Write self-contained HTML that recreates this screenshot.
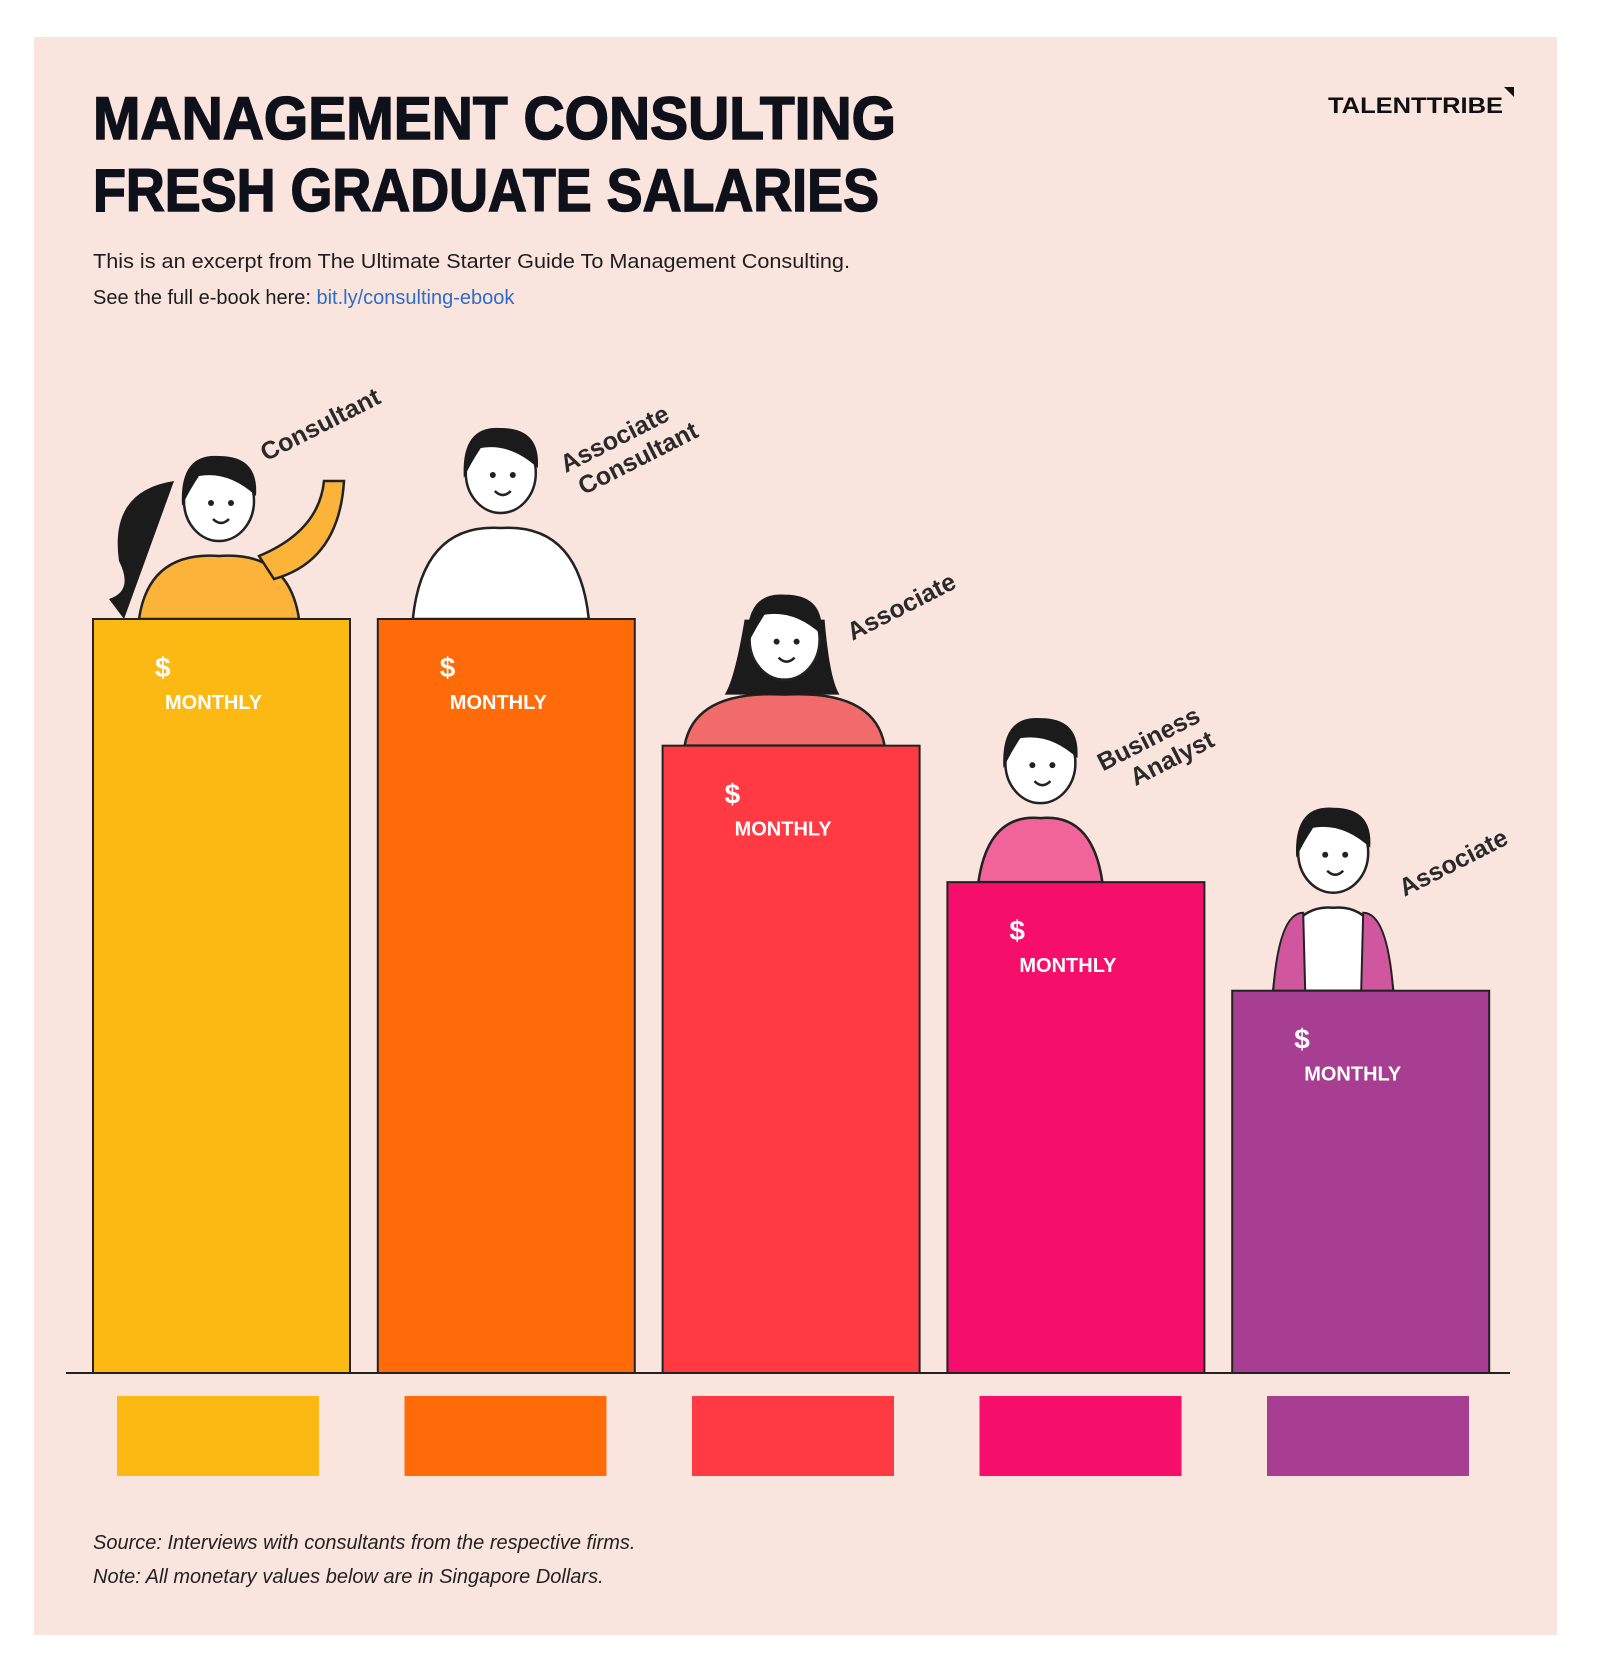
<!DOCTYPE html>
<html><head><meta charset="utf-8">
<style>
html,body{margin:0;padding:0;background:#fff;width:1600px;height:1680px;overflow:hidden}
svg{display:block}
text{font-family:"Liberation Sans",sans-serif}
</style></head>
<body>
<svg id="chart" width="1600" height="1680" viewBox="0 0 1600 1680">
  <rect x="34" y="37" width="1523" height="1598" fill="#fae5de"/>
  <text x="93" y="139" font-size="60" font-weight="900" fill="#0f111a" textLength="803" lengthAdjust="spacingAndGlyphs" stroke="#0f111a" stroke-width="1.5">MANAGEMENT CONSULTING</text>
  <text x="93" y="211" font-size="60" font-weight="900" fill="#0f111a" textLength="786" lengthAdjust="spacingAndGlyphs" stroke="#0f111a" stroke-width="1.5">FRESH GRADUATE SALARIES</text>
  <text x="93" y="268" font-size="20" fill="#1d1d1d" textLength="757" lengthAdjust="spacingAndGlyphs">This is an excerpt from The Ultimate Starter Guide To Management Consulting.</text>
  <text x="93" y="304" font-size="20" fill="#1d1d1d">See the full e-book here: <tspan fill="#2f6cc4">bit.ly/consulting-ebook</tspan></text>
  <text x="1328" y="113" font-size="22" font-weight="bold" fill="#111" textLength="175" lengthAdjust="spacingAndGlyphs">TALENTTRIBE</text>
  <polygon points="1504,87 1514,87 1514,97" fill="#111"/>
  <g id="figs"></g>
  <g id="bars"></g>
  <line x1="66" y1="1373" x2="1510" y2="1373" stroke="#222" stroke-width="2"/>
  <g id="swatches"></g>
  <text x="93" y="1549" font-size="20" font-style="italic" fill="#222">Source: Interviews with consultants from the respective firms.</text>
  <text x="93" y="1583" font-size="20" font-style="italic" fill="#222">Note: All monetary values below are in Singapore Dollars.</text>
</svg>
<script>
const categories = ["Consultant", "Associate Consultant", "Associate", "Business Analyst", "Associate"];
const relativeHeights = [100, 100, 83.2, 65.1, 50.7];
const barColors = ["#fdb913", "#ff6b08", "#ff3a43", "#f50f6b", "#a83e92"];
const shirtColors = ["#fbb33a", "#ffffff", "#f26b6b", "#f0649a", "#ffffff"];

const NS = "http://www.w3.org/2000/svg";
const baseY = 1373, maxH = 754, x0 = 93, step = 284.8, bw = 257;
function xPos(i){ return x0 + i*step; }
function yPos(v){ return baseY - v/100*maxH; }
function mk(tag, attrs, parent){ const e=document.createElementNS(NS,tag); for(const k in attrs) e.setAttribute(k,attrs[k]); parent.appendChild(e); return e; }

const gb=document.getElementById('bars'), gs=document.getElementById('swatches'), gf=document.getElementById('figs');
relativeHeights.forEach((v,i)=>{
  const x=xPos(i), y=yPos(v);
  const r=mk('rect',{x:x,y:y,width:bw,height:baseY-y,fill:barColors[i],stroke:'#222','stroke-width':2},gb);
  
  
  const d=mk('text',{x:x+62,y:y+58,'font-size':28,'font-weight':'bold',fill:'#fff'},gb);
  d.textContent='$';
  
  
  const m=mk('text',{x:x+72,y:y+90,'font-size':20,'font-weight':'bold',fill:'#fff'},gb);
  m.textContent='MONTHLY';
  
  
  const sw=mk('rect',{x:117+i*287.5,y:1396,width:202,height:80,fill:barColors[i]},gs);
  
  

  const g=mk('g',{},gf);
  
  
  const cx=x+[126,123,122,93,101][i], hy=y-[118,146,106,119,138][i];
  const bwid=[80,88,100,62,60][i];
  mk('path',{d:`M${cx-bwid} ${y} Q${cx-bwid+10} ${hy+50} ${cx} ${hy+55} Q${cx+bwid-10} ${hy+50} ${cx+bwid} ${y} Z`,fill:shirtColors[i],stroke:'#222','stroke-width':2.5},g);
  if(i===4){ mk('path',{d:`M${cx-bwid} ${y} Q${cx-bwid+6} ${hy+60} ${cx-30} ${hy+60} L${cx-28} ${y} Z`,fill:'#d0569e',stroke:'#222','stroke-width':2},g);
             mk('path',{d:`M${cx+bwid} ${y} Q${cx+bwid-6} ${hy+60} ${cx+30} ${hy+60} L${cx+28} ${y} Z`,fill:'#d0569e',stroke:'#222','stroke-width':2},g); }
  if(i===0){ mk('path',{d:`M${cx+40} ${hy+55} Q${cx+100} ${hy+30} ${cx+105} ${hy-20} L${cx+125} ${hy-20} Q${cx+120} ${hy+60} ${cx+55} ${hy+78} Z`,fill:'#fbb33a',stroke:'#222','stroke-width':2.5},g);
             mk('path',{d:`M${cx-45} ${hy-20} Q${cx-110} ${hy-10} ${cx-100} ${hy+60} Q${cx-85} ${hy+90} ${cx-110} ${y-20} L${cx-95} ${y} Z`,fill:'#1b1b1b'},g); }
  if(i===2){ mk('path',{d:`M${cx-40} ${hy-20} Q${cx-50} ${hy+40} ${cx-60} ${hy+55} L${cx+55} ${hy+55} Q${cx+45} ${hy+40} ${cx+40} ${hy-20} Z`,fill:'#1b1b1b'},g); }
  mk('ellipse',{cx:cx,cy:hy,rx:35,ry:40,fill:'#fff',stroke:'#222','stroke-width':2.5},g);
  mk('path',{d:`M${cx-37} ${hy+5} Q${cx-40} ${hy-48} ${cx} ${hy-45} Q${cx+40} ${hy-45} ${cx+37} ${hy-5} Q${cx+10} ${hy-30} ${cx-20} ${hy-25} Q${cx-30} ${hy-10} ${cx-37} ${hy+5} Z`,fill:'#1b1b1b'},g);
  mk('circle',{cx:cx-8,cy:hy+2,r:3,fill:'#222'},g);
  mk('circle',{cx:cx+12,cy:hy+2,r:3,fill:'#222'},g);
  mk('path',{d:`M${cx-6} ${hy+18} Q${cx+2} ${hy+26} ${cx+10} ${hy+18}`,fill:'none',stroke:'#222','stroke-width':2.5},g);
});

const labelPos=[[320,424,["Consultant"]],[626,448,["Associate","Consultant"]],[901,606,["Associate"]],[1160,748,["Business","Analyst"]],[1453,862,["Associate"]]];
labelPos.forEach((p,i)=>{
  const t=mk('text',{transform:`translate(${p[0]},${p[1]}) rotate(-27)`,'font-size':25,'font-weight':'bold',fill:'#2a2a2a','text-anchor':'middle'},gf);
  
  
  p[2].forEach((s,j)=>{ const ts=mk('tspan',{x:(p[2].length>1? j*12-6:0),y:(p[2].length>1? (j-0.5)*28+9:9)},t); ts.textContent=s; });
});
</script>
</body></html>
